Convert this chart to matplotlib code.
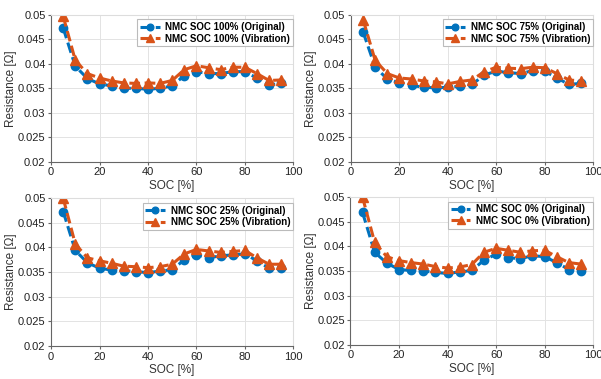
import numpy as np
import matplotlib.pyplot as plt

plt.rcParams['font.family'] = ['Liberation Sans', 'DejaVu Sans']

soc = np.arange(5, 100, 5)

# panel labels
socLevels = ['100%', '75%', '25%', '0%']

orig100 = [0.0473, 0.0395, 0.0370, 0.0359, 0.0355, 0.0350, 0.0350, 0.0348, 0.0350, 0.0355,
           0.0376, 0.0384, 0.0380, 0.0380, 0.0384, 0.0384, 0.0371, 0.0357, 0.0360]
vib100 = [0.0497, 0.0407, 0.0380, 0.0371, 0.0365, 0.0361, 0.0360, 0.0361, 0.0360, 0.0366,
          0.0388, 0.0396, 0.0392, 0.0388, 0.0393, 0.0393, 0.0380, 0.0366, 0.0367]

orig75 = [0.0465, 0.0393, 0.0369, 0.0361, 0.0356, 0.0352, 0.0351, 0.0352, 0.0354, 0.0358,
          0.0377, 0.0385, 0.0382, 0.0380, 0.0386, 0.0385, 0.0371, 0.0358, 0.0360]
vib75 = [0.0490, 0.0407, 0.0380, 0.0371, 0.0369, 0.0365, 0.0363, 0.0359, 0.0364, 0.0367,
         0.0384, 0.0393, 0.0391, 0.0390, 0.0393, 0.0392, 0.0380, 0.0367, 0.0365]

orig25 = [0.0473, 0.0394, 0.0369, 0.0358, 0.0354, 0.0353, 0.0351, 0.0349, 0.0352, 0.0355,
          0.0375, 0.0385, 0.0379, 0.0383, 0.0385, 0.0387, 0.0373, 0.0358, 0.0358]
vib25 = [0.0500, 0.0407, 0.0379, 0.0373, 0.0368, 0.0362, 0.0361, 0.0359, 0.0361, 0.0366,
         0.0387, 0.0396, 0.0393, 0.0390, 0.0392, 0.0394, 0.0379, 0.0366, 0.0366]

orig0 = [0.0469, 0.0388, 0.0366, 0.0353, 0.0351, 0.0350, 0.0347, 0.0345, 0.0348, 0.0351,
         0.0372, 0.0384, 0.0377, 0.0375, 0.0381, 0.0379, 0.0367, 0.0353, 0.0350]
vib0 = [0.0500, 0.0408, 0.0379, 0.0371, 0.0367, 0.0364, 0.0359, 0.0356, 0.0358, 0.0363,
        0.0388, 0.0396, 0.0392, 0.0388, 0.0391, 0.0392, 0.0379, 0.0367, 0.0364]

origData = [orig100, orig75, orig25, orig0]
vibData = [vib100, vib75, vib25, vib0]

blue = '#0072BD'
orange = '#D95319'

fig = plt.figure(figsize=(6.01, 3.79), dpi=100)
# [left, bottom, width, height] for each panel
boxes = [[0.085, 0.573, 0.403, 0.388],
         [0.584, 0.573, 0.403, 0.388],
         [0.085, 0.087, 0.403, 0.390],
         [0.583, 0.090, 0.404, 0.390]]

for box, lvl, o, v in zip(boxes, socLevels, origData, vibData):
    ax = fig.add_axes(box)
    ax.plot(soc, o, '--o', color=blue, lw=2.2, ms=6, dashes=(3.5, 1.5),
            label='NMC SOC %s (Original)' % lvl)
    ax.plot(soc, v, '--^', color=orange, lw=2.2, ms=6.8, dashes=(3.5, 1.5),
            label='NMC SOC %s (Vibration)' % lvl)
    ax.set_xlim(0, 100)
    ax.set_ylim(0.02, 0.05)
    ax.set_xticks(np.arange(0, 101, 20))
    ax.set_yticks(np.arange(0.02, 0.0501, 0.005))
    ax.set_yticklabels(['0.02', '0.025', '0.03', '0.035', '0.04', '0.045', '0.05'])
    ax.grid(True, color='#e3e3e3', lw=0.7)
    ax.set_axisbelow(True)
    for s in ['top', 'right']:
        ax.spines[s].set_color('#dddddd')
    for s in ['left', 'bottom']:
        ax.spines[s].set_color('#666666')
    ax.tick_params(labelsize=8, length=2, color='#666666', labelcolor='#222222', pad=2)
    ax.set_xlabel('SOC [%]', fontsize=8.5, color='#333333', labelpad=2)
    ax.set_ylabel('Resistance [\u03a9]', fontsize=8.5, color='#333333', labelpad=0.5)
    leg = ax.legend(loc='upper right', bbox_to_anchor=(1.0, 0.97), borderaxespad=0,
                    prop={'size': 7, 'weight': 'bold'}, handlelength=2.0,
                    labelspacing=0.15, borderpad=0.3, handletextpad=0.6,
                    markerscale=0.8, fancybox=False, framealpha=1, edgecolor='#bbbbbb')
    leg.get_frame().set_linewidth(0.8)

fig.savefig('out.png', dpi=100)
